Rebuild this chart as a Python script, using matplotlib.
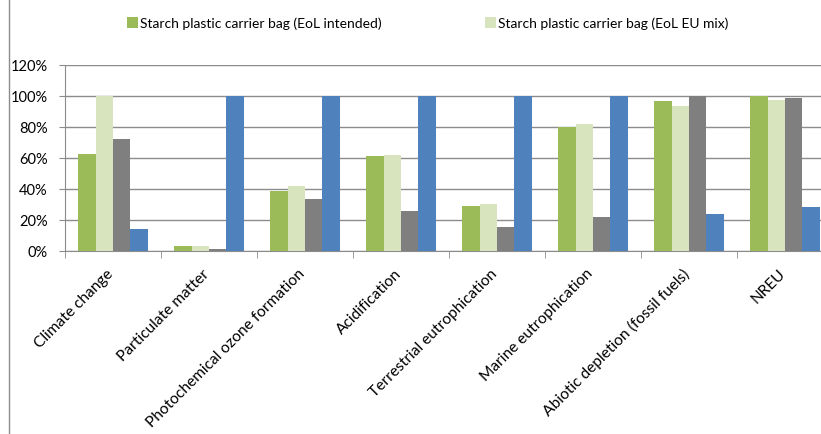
import numpy as np
import matplotlib
matplotlib.use("Agg")
import matplotlib.pyplot as plt
import matplotlib.transforms as mtrans
from matplotlib.lines import Line2D
from matplotlib.ticker import FixedLocator, PercentFormatter

plt.rcParams['font.family'] = ['Lato', 'DejaVu Sans']

categories = ['Climate change', 'Particulate matter', 'Photochemical ozone formation',
              'Acidification', 'Terrestrial eutrophication', 'Marine eutrophication',
              'Abiotic depletion (fossil fuels)', 'NREU']

# values in % (relative to the max of each indicator)
eol_intended = [62.4, 3.3, 38.7, 61.0, 28.6, 80.0, 96.4, 100.0]
eol_eu_mix = [100.0, 3.3, 41.5, 62.0, 30.3, 81.5, 93.2, 97.4]
series_grey = [72.0, 1.0, 33.5, 25.6, 15.0, 22.0, 100.0, 98.5]
series_blue = [14.0, 100.0, 100.0, 100.0, 100.0, 100.0, 23.9, 28.2]

series_labels = ['Starch plastic carrier bag (EoL intended)',
                 'Starch plastic carrier bag (EoL EU mix)']

colors = ['#9BBB59', '#D7E4BD', '#7F7F7F', '#4F81BD']
line_col = '#8C8C8C'

fig = plt.figure(figsize=(8.21, 4.35), dpi=100)
# the plot area runs past the right edge of the picture (cropped like the original)
ax = fig.add_axes([65 / 821, 1 - 251.7 / 435, 768 / 821, 186 / 435])

x = np.arange(len(categories))
w = 0.18
all_series = [eol_intended, eol_eu_mix, series_grey, series_blue]
bars = []
for i, (vals, c) in enumerate(zip(all_series, colors)):
    b = ax.bar(x + (i - 1.5) * w, vals, width=w, color=c, zorder=3)
    bars.append(b)

ax.set_xlim(-0.5, len(categories) - 0.5)
ax.set_ylim(0, 120)
ax.set_yticks(np.arange(0, 121, 20))
ax.yaxis.set_major_formatter(PercentFormatter(decimals=0))
ax.yaxis.grid(True, color=line_col, linewidth=1, zorder=0)

ax.set_xticks(x)
ax.set_xticklabels(categories, rotation=45, ha='right', rotation_mode='anchor')
ax.xaxis.set_minor_locator(FixedLocator(np.arange(-0.5, len(categories), 1)))
ax.tick_params(axis='x', which='major', length=0, pad=11, labelsize=11.2)
ax.tick_params(axis='x', which='minor', length=5, color=line_col)
ax.tick_params(axis='y', length=4.5, color=line_col, labelsize=10.5, pad=8)

for s in ['top', 'right']:
    ax.spines[s].set_visible(False)
for s in ['left', 'bottom']:
    ax.spines[s].set_color(line_col)

# shift the rotated labels so their ends sit at the category centre
offset = mtrans.ScaledTranslation(-7 / 100, 0, fig.dpi_scale_trans)
for lbl in ax.get_xticklabels():
    lbl.set_transform(lbl.get_transform() + offset)

legend_x = [127 / 821, 485 / 821]
for b, lab, lx in zip(bars[:2], series_labels, legend_x):
    fig.legend([b], [lab], loc='center left', bbox_to_anchor=(lx, 1 - 24 / 435),
               frameon=False, fontsize=10, handlelength=0.8, handleheight=0.8,
               handletextpad=0.15, borderpad=0, borderaxespad=0)

fig.add_artist(Line2D([9 / 821, 9 / 821], [0, 1], color=line_col, linewidth=1))

fig.savefig('out.png', dpi=100)
